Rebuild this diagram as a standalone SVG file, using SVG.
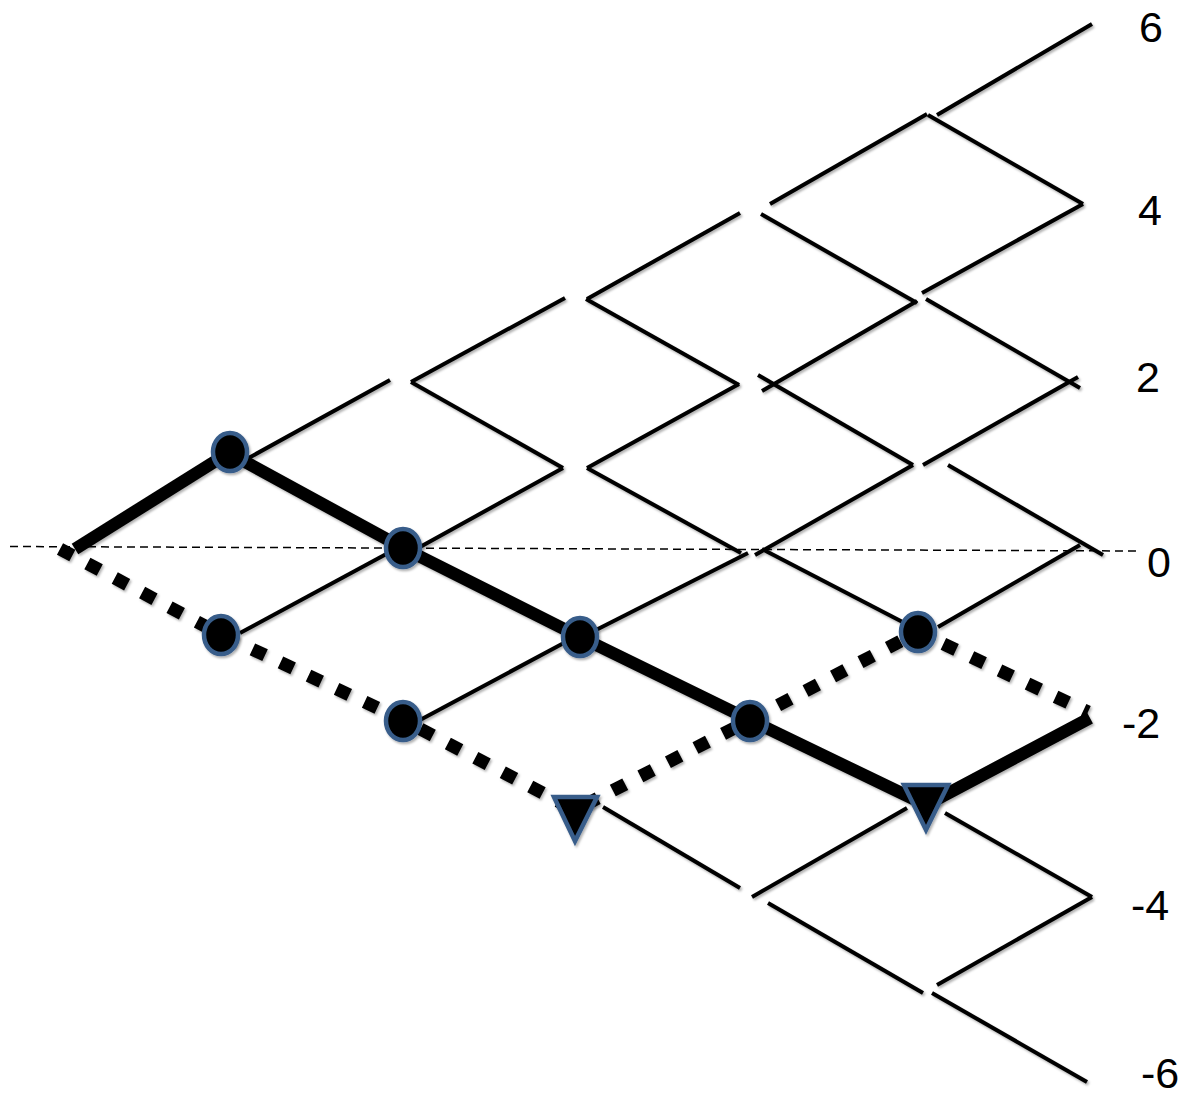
<svg xmlns="http://www.w3.org/2000/svg" width="1188" height="1099" viewBox="0 0 1188 1099">
  <style>
    .thin { stroke: #000; stroke-width: 4; fill: none; stroke-linecap: butt; }
    .thick { stroke: #000; stroke-width: 12.5; fill: none; stroke-linecap: butt; stroke-linejoin: miter; }
    .dot { stroke: #000; stroke-width: 13; fill: none; stroke-dasharray: 14 17; stroke-linecap: butt; stroke-linejoin: miter; }
    .axis { stroke: #000; stroke-width: 1.5; fill: none; stroke-dasharray: 8 5; }
    .mk { fill: #000; stroke: #385D8A; stroke-width: 4.5; }
    .lbl { font-family: "Liberation Sans", Arial, sans-serif; font-size: 43px; fill: #000; text-anchor: middle; }
  </style>
  <defs>
    <filter id="sh" x="-10%" y="-10%" width="120%" height="120%">
      <feDropShadow dx="1.5" dy="2" stdDeviation="1.2" flood-color="#000" flood-opacity="0.3"/>
    </filter>
  </defs>
  <rect width="1188" height="1099" fill="#fff"/>

  <line class="axis" x1="10" y1="546.5" x2="1140" y2="551"/>

  <g id="connectors" filter="url(#sh)">
    <g id="lattice">
      <line class="thin" x1="245" y1="460" x2="390" y2="380"/>
      <line class="thin" x1="240" y1="633" x2="390" y2="552"/>
      <line class="thin" x1="411" y1="382" x2="565" y2="298"/>
      <line class="thin" x1="411" y1="382" x2="563" y2="468"/>
      <line class="thin" x1="420" y1="547" x2="563" y2="468"/>
      <line class="thin" x1="420" y1="720" x2="575" y2="637"/>
      <line class="thin" x1="587" y1="299" x2="740" y2="213"/>
      <line class="thin" x1="586" y1="299" x2="739" y2="385"/>
      <line class="thin" x1="587" y1="468" x2="739" y2="384"/>
      <line class="thin" x1="587" y1="468" x2="741" y2="553"/>
      <line class="thin" x1="592" y1="632" x2="748" y2="553"/>
      <line class="thin" x1="603" y1="807" x2="740" y2="888"/>
      <line class="thin" x1="770" y1="204" x2="927" y2="114"/>
      <line class="thin" x1="761" y1="214" x2="917" y2="303"/>
      <line class="thin" x1="762" y1="391" x2="917" y2="301"/>
      <line class="thin" x1="758" y1="375" x2="913" y2="465"/>
      <line class="thin" x1="755" y1="555" x2="913" y2="465"/>
      <line class="thin" x1="762" y1="549" x2="918" y2="630"/>
      <line class="thin" x1="752" y1="897" x2="907" y2="808"/>
      <line class="thin" x1="768" y1="903" x2="923" y2="993"/>
      <line class="thin" x1="937" y1="115" x2="1092" y2="24"/>
      <line class="thin" x1="928" y1="115" x2="1083" y2="204"/>
      <line class="thin" x1="1083" y1="204" x2="922" y2="293"/>
      <line class="thin" x1="926" y1="299" x2="1080" y2="388"/>
      <line class="thin" x1="1078" y1="377" x2="923" y2="465"/>
      <line class="thin" x1="948" y1="465" x2="1103" y2="555"/>
      <line class="thin" x1="1080" y1="545" x2="938" y2="627"/>
      <line class="thin" x1="945" y1="813" x2="1092" y2="897"/>
      <line class="thin" x1="1092" y1="897" x2="937" y2="985"/>
      <line class="thin" x1="932" y1="993" x2="1087" y2="1082"/>
    </g>
    <polyline id="path-dotted" class="dot" points="60,549 222,635 403,720 575,810 750,720 918,632 1088,712"/>
    <polyline id="path-solid-a" class="thick" points="75,549 230,452"/>
    <polyline id="path-solid-b" class="thick" points="240,459 403,548 580,637 750,720 926,805 1090,718"/>
  </g>

  <g id="nodes" filter="url(#sh)">
    <g id="n1"><ellipse class="mk" cx="230" cy="452" rx="17" ry="19"/></g>
    <g id="n2"><ellipse class="mk" cx="403" cy="548" rx="17" ry="19"/></g>
    <g id="n3"><ellipse class="mk" cx="221" cy="635" rx="17" ry="19"/></g>
    <g id="n4"><ellipse class="mk" cx="403" cy="721" rx="17" ry="19"/></g>
    <g id="n5"><ellipse class="mk" cx="580" cy="637" rx="17" ry="19"/></g>
    <g id="n6"><ellipse class="mk" cx="750" cy="721" rx="17" ry="19"/></g>
    <g id="n7"><ellipse class="mk" cx="918" cy="632" rx="17" ry="19"/></g>
    <g id="t1"><polygon class="mk" points="554,797 597,797 575,841"/></g>
    <g id="t2"><polygon class="mk" points="904,785 948,785 926,830"/></g>
  </g>

  <g id="labels">
    <text class="lbl" x="1151" y="42">6</text>
    <text class="lbl" x="1150" y="225">4</text>
    <text class="lbl" x="1148" y="392">2</text>
    <text class="lbl" x="1159" y="577">0</text>
    <text class="lbl" x="1141" y="738">-2</text>
    <text class="lbl" x="1150" y="920">-4</text>
    <text class="lbl" x="1160" y="1088">-6</text>
  </g>
</svg>
